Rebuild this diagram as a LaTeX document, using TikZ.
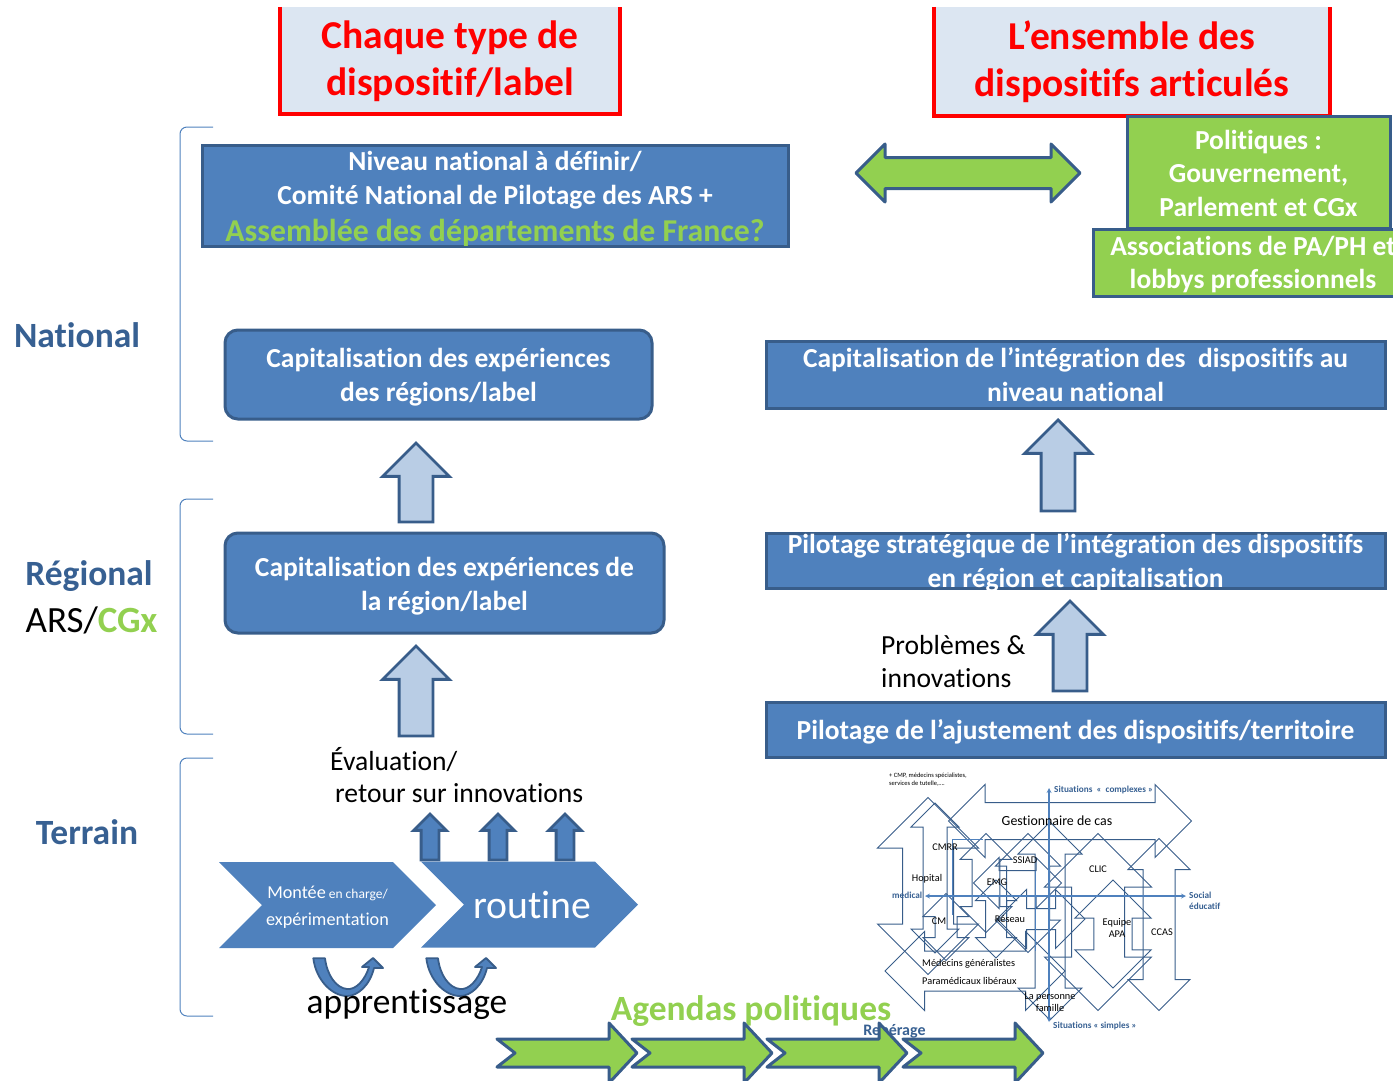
\documentclass[tikz,border=0pt]{standalone}
\usepackage{fontspec}
\setmainfont[Ligatures=NoCommon]{Carlito}
\usetikzlibrary{shapes.arrows,shapes.symbols}
\definecolor{steelblue}{RGB}{79,129,189}
\definecolor{darksteel}{RGB}{56,93,138}
\definecolor{palesteel}{RGB}{185,205,229}
\definecolor{titlefill}{RGB}{220,230,242}
\definecolor{leafgreen}{RGB}{146,208,80}
\definecolor{inkblue}{RGB}{55,96,146}
\newcommand{\fs}[2]{\fontsize{#1}{#2}\selectfont}
\newcommand{\lift}[1]{\rule{0pt}{#1}}
\tikzset{
	titlebox/.style={shape=rectangle,fill=titlefill,text=red,font=\fs{39.5}{47}\bfseries,align=center,inner sep=0pt},
	titleline/.style={draw=red,line width=3.5pt},
	bluebox/.style={shape=rectangle,draw=darksteel,fill=steelblue,line width=3pt,text=white,
		font=\fs{27.5}{34}\bfseries,align=center,inner sep=0pt},
	roundbox/.style={bluebox,rounded corners=4.5mm},
	greenbox/.style={shape=rectangle,draw=darksteel,fill=leafgreen,line width=3pt,text=white,
		font=\fs{27.5}{33.5}\bfseries,align=center,inner sep=0pt},
	levellabel/.style={text=inkblue,font=\fs{35.5}{40}\bfseries,inner sep=0pt},
	plainlabel/.style={text=black,font=\fs{27.6}{33},inner sep=0pt,anchor=west},
	uparrow/.style={shape=single arrow,rotate=90,anchor=tip,draw=darksteel,fill=palesteel,line width=2.8pt,
		inner xsep=0pt,inner ysep=15.5pt,single arrow head extend=16.5pt},
	smallup/.style={shape=single arrow,rotate=90,anchor=tip,draw=darksteel,fill=steelblue,line width=2.8pt,
		minimum height=46pt,inner xsep=0pt,inner ysep=7.5pt,single arrow head extend=7.5pt},
	stage/.style={shape=signal,signal from=west,signal to=east,signal pointer angle=90,fill=steelblue,
		minimum height=86pt,minimum width=217pt,inner sep=0pt,text=white,align=center},
	brace/.style={draw=steelblue,line width=1pt,rounded corners=7pt},
	mesh/.style n args={3}{shape=double arrow,draw=darksteel,line width=1pt,inner xsep=0pt,
		minimum height=#1,inner ysep=#2,double arrow head extend=#3},
	meshline/.style={draw=steelblue,line width=1pt},
	meshtext/.style={text=black,font=\fs{10.3}{11.5},align=center,inner sep=0pt},
	meshaxis/.style={text=inkblue,font=\fs{9.2}{11}\bfseries,align=left,inner sep=0pt,anchor=west},
	axisline/.style={draw=steelblue,line width=1.2pt,-stealth},
	linkarrow/.style={draw=darksteel,fill=leafgreen,line width=3pt,line join=round},
	loopback/.style={draw=darksteel,fill=steelblue,line width=1.8pt,line join=round},
}
\begin{document}
\begin{tikzpicture}[x=1pt,y=-1pt]
	\useasboundingbox (0,0) rectangle (1393,1080);

	\node(typetitle)[titlebox,minimum width=340pt,minimum height=107pt,at={(450,60.5)}]
		{\lift{30pt}Chaque type de\\dispositif/label};
	\draw[titleline] (typetitle.north west) -- (typetitle.south west) -- (typetitle.south east) -- (typetitle.north east);
	\node(alltitle)[titlebox,minimum width=396pt,minimum height=109pt,at={(1132,61.5)}]
		{\lift{30pt}L’ensemble des\\dispositifs articulés};
	\draw[titleline] (alltitle.north west) -- (alltitle.south west) -- (alltitle.south east) -- (alltitle.north east);

	\node(nationalbox)[bluebox,minimum width=586pt,minimum height=101pt,at={(495,195.5)}]
		{\lift{25pt}Niveau national à définir/\\Comité National de Pilotage des ARS +\\[3pt]
		{\color{leafgreen}\fs{31.8}{36}Assemblée des départements de France?}};
	\node(typenational)[roundbox,minimum width=427pt,minimum height=89pt,at={(438.5,374.5)}]
		{\lift{25pt}Capitalisation des expériences\\des régions/label};
	\node(typeregion)[roundbox,minimum width=439pt,minimum height=100pt,at={(444.5,583)}]
		{\lift{25pt}Capitalisation des expériences de\\la région/label};
	\node(allnational)[bluebox,minimum width=619pt,minimum height=67pt,at={(1075.5,374.5)}]
		{Capitalisation de l’intégration des\ \ dispositifs au\\niveau national};
	\node(allregion)[bluebox,inner ysep=-8pt,minimum width=619pt,minimum height=55pt,at={(1075.5,560.5)}]
		{\lift{25pt}Pilotage stratégique de l’intégration des dispositifs\\en région et capitalisation};
	\node(allterrain)[bluebox,minimum width=619pt,minimum height=55pt,at={(1075.5,729.5)}]
		{\lift{24pt}Pilotage de l’ajustement des dispositifs/territoire};
	\node(politics)[greenbox,minimum width=263pt,minimum height=112pt,at={(1258.5,172)}]
		{\lift{21.5pt}Politiques :\\Gouvernement,\\Parlement et CGx};
	\node(lobbies)[greenbox,minimum width=320pt,minimum height=67pt,at={(1253,262.5)}]
		{\lift{23pt}Associations de PA/PH et\\lobbys professionnels};
	\node(linkarrowtop)[shape=double arrow,draw=darksteel,fill=leafgreen,line width=3pt,line join=round,inner xsep=0pt,
		inner ysep=14pt,minimum height=224pt,double arrow head extend=13.5pt,at={(968,173)}]{};

	\node(arrowtypeup)[uparrow,minimum height=79pt,at={(416,441)}]{};
	\node(arrowtypereg)[uparrow,minimum height=90pt,at={(416,644)}]{};
	\node(arrowallup)[uparrow,minimum height=91pt,at={(1058,418)}]{};
	\node(arrowallreg)[uparrow,minimum height=90pt,at={(1070,599)}]{};

	\node(national)[levellabel,at={(77,335)}]{National};
	\node(regional)[levellabel,at={(89,576)}]{Régional};
	\node(arslabel)[text=black,font=\fs{37}{40},inner sep=0pt,at={(91.5,620)}]{ARS/{\color{leafgreen}\bfseries CGx}};
	\node(terrain)[levellabel,at={(87,832)}]{Terrain};
	\foreach \top/\bottom in {127/441,499/734,758/1016}
		\draw[brace] (213,\top) -- (180,\top) -- (180,\bottom) -- (213,\bottom);

	\node(evaluation)[plainlabel,at={(330,760)}]{Évaluation/};
	\node(feedback)[plainlabel,at={(335,793)}]{retour sur innovations};
	\foreach \x/\name in {430/a,498/b,565/c}
		\node(small\name)[smallup,at={(\x,812)}]{};
	\node(startup)[stage,font=\fs{18.2}{26.5},at={(327.5,905)}]
		{\lift{17pt}Montée\,{\fs{13.5}{26.5}en charge/}\\expérimentation};
	\node(routine)[stage,at={(529.5,904.5)},font=\fs{39.7}{40}]{\hspace*{6pt}routine};
	\foreach \x in {0,113}
		\draw[loopback,shift={(\x,0)}] (313.3,958.3) .. controls (316,980) and (332,996) .. (347,996)
			.. controls (358,996) and (370,985) .. (374,968) -- (383,968) -- (373,958) -- (362,967) -- (369,967)
			.. controls (365,980) and (356,990) .. (347,989) .. controls (336,988) and (327,975) .. (325,958.3) -- cycle;
	\node(learning)[text=black,font=\fs{35.4}{40},inner sep=0pt,at={(407,1004)}]{apprentissage};

	\node(problems)[plainlabel,align=left,font=\fs{27.6}{33.5},at={(881,661.5)}]{Problèmes \&\\innovations};

	\node(cmpnote)[text=black,font=\fs{6.5}{8},align=left,inner sep=0pt,anchor=west,at={(889,780)}]
		{+ CMP, médecins spécialistes,\\services de tutelle,….};
	\node(meshcase)[mesh={243pt}{18pt}{18pt},at={(1070,821)}]{};
	\node(meshhospital)[mesh={177pt}{25pt}{25pt},rotate=90,at={(928,886)}]{};
	\node(meshcmrr)[mesh={150pt}{11.5pt}{12pt},rotate=90,at={(935,878)}]{};
	\node(meshcm)[mesh={67pt}{10.5pt}{12pt},rotate=90,at={(946,927)}]{};
	\node(meshemg)[mesh={99pt}{13.3pt}{12pt},rotate=90,at={(986,883)}]{};
	\node(meshemgb)[mesh={78pt}{10pt}{10pt},rotate=90,at={(996,919)}]{};
	\node(meshssiad)[mesh={119pt}{21pt}{11pt},rotate=90,at={(1028,893)}]{};
	\node(meshperson)[mesh={198pt}{14.5pt}{17pt},rotate=90,at={(1050,921)}]{};
	\node(meshclic)[mesh={177pt}{26pt}{27pt},rotate=90,at={(1098,922)}]{};
	\node(meshapa)[mesh={108pt}{18.7pt}{19pt},rotate=90,at={(1113,934)}]{};
	\node(meshccas)[mesh={172pt}{15.5pt}{15pt},rotate=90,at={(1159,924.5)}]{};
	\node(meshdoctors)[mesh={180pt}{19.5pt}{19.5pt},at={(975,971)}]{};
	\node(meshnetwork)[mesh={88pt}{10pt}{19pt},at={(1041,919)}]{};
	\node(meshnurses)[mesh={88pt}{12pt}{13pt},at={(1017.5,883)}]{};
	\draw[meshline] (952,915) -- (952,839) -- (983,839);
	\draw[meshline] (1035,871) -- (1035,951);

	\coordinate(axistop) at (1049,788);
	\coordinate(axisbottom) at (1049,1022);
	\coordinate(axisleft) at (925,896);
	\coordinate(axisright) at (1186,896);
	\draw[axisline,stealth-stealth] (axisbottom) -- (axistop);
	\draw[axisline,stealth-stealth] (axisleft) -- (axisright);

	\node(labelcase)[meshtext,font=\fs{13.9}{15},at={(1057,821)}]{Gestionnaire de cas};
	\node(labelcmrr)[meshtext,at={(945,847)}]{CMRR};
	\node(labelssiad)[meshtext,at={(1025,860)}]{SSIAD};
	\node(labelhospital)[meshtext,at={(927,879)}]{Hopital};
	\node(labelemg)[meshtext,at={(997,882)}]{EMG};
	\node(labelcm)[meshtext,at={(939,921)}]{CM};
	\node(labelnetwork)[meshtext,at={(1010,919)}]{Réseau};
	\node(labelclic)[meshtext,at={(1098,869)}]{CLIC};
	\node(labelapa)[meshtext,at={(1117,928)}]{Equipe\\APA};
	\node(labelccas)[meshtext,at={(1162,932)}]{CCAS};
	\node(labeldoctors)[meshtext,anchor=west,at={(922,964)}]{Médecins généralistes};
	\node(labelnurses)[meshtext,anchor=west,at={(922,981)}]{Paramédicaux libéraux};
	\node(labelperson)[meshtext,at={(1050,1002)}]{La personne\\famille};
	\node(labelcomplex)[meshaxis,at={(1054,790)}]{Situations\ \ « \ complexes »};
	\node(labelsimple)[meshaxis,at={(1053,1026)}]{Situations « simples »};
	\node(labelmedical)[meshaxis,at={(892,895)}]{medical};
	\node(labelsocial)[meshaxis,at={(1189,901)}]{Social\\éducatif};

	\node(agendas)[text=leafgreen,font=\fs{35.5}{40}\bfseries,inner sep=0pt,at={(751,1011)}]{Agendas politiques};
	\node(locating)[text=inkblue,font=\fs{16}{18}\bfseries,inner sep=0pt,at={(894.5,1031)}]{Repérage};
	\foreach \x in {0,135,270,406}
		\draw[linkarrow,shift={(\x,0)}] (497,1039) -- (609,1039) -- (609,1023) -- (637,1053) -- (609,1083)
			-- (609,1067) -- (497,1067) -- (515,1053) -- cycle;
\end{tikzpicture}
\end{document}
